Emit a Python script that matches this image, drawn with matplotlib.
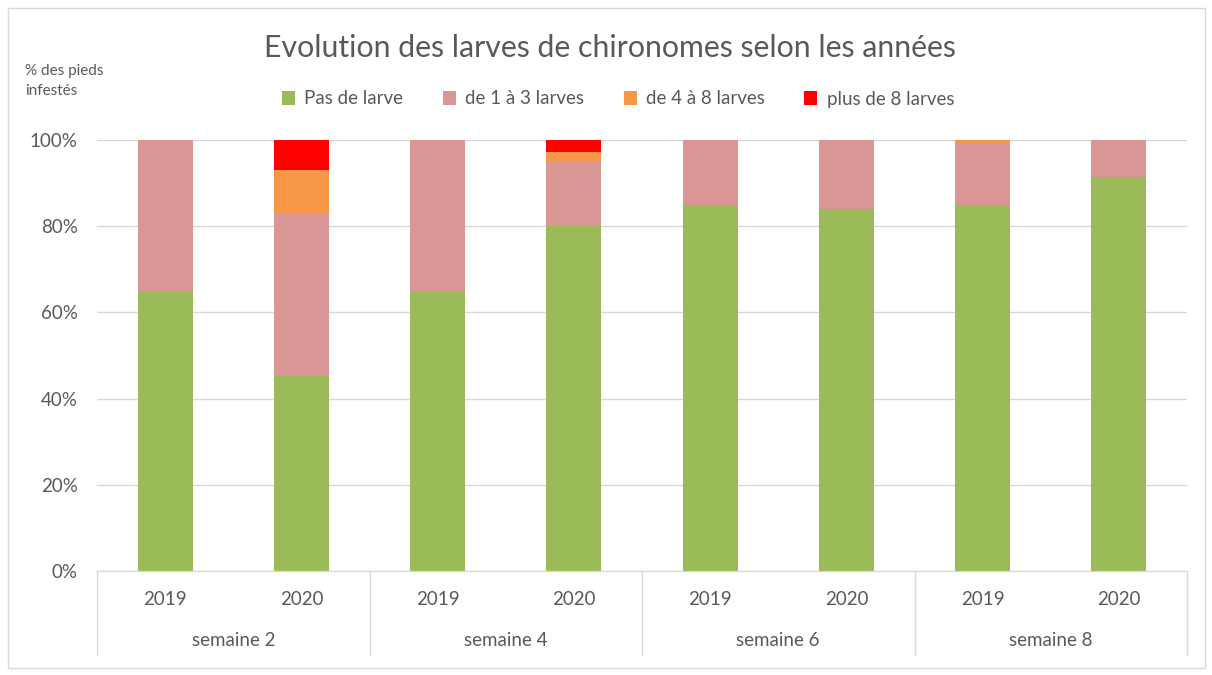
import matplotlib
matplotlib.use("Agg")
import matplotlib.pyplot as plt
import matplotlib.transforms as mtransforms
from matplotlib.patches import Rectangle

plt.rcParams['font.family'] = ['Lato', 'DejaVu Sans']

years = ["2019", "2020", "2019", "2020", "2019", "2020", "2019", "2020"]
groups = ["semaine 2", "semaine 4", "semaine 6", "semaine 8"]
series_names = ["Pas de larve", "de 1 à 3 larves", "de 4 à 8 larves", "plus de 8 larves"]
pas_de_larve = [65, 45.5, 65, 80, 85, 84, 85, 91.3]
de_1_a_3 = [35, 37.5, 35, 15, 15, 16, 14.2, 8.7]
de_4_a_8 = [0, 10, 0, 2.1, 0, 0, 0.8, 0]
plus_de_8 = [0, 7, 0, 2.9, 0, 0, 0, 0]
colors = ["#9BBB59", "#D99694", "#F79646", "#FF0000"]

W, H = 1212, 675
fig = plt.figure(figsize=(W / 100, H / 100), dpi=100)
fig.patches.append(Rectangle((8 / W, 1 - 668 / H), (1205 - 8) / W, (668 - 8) / H,
                             transform=fig.transFigure, fill=False,
                             edgecolor="#d9d9d9", linewidth=1))

ax = fig.add_axes([97 / W, 1 - 571 / H, (1187 - 97) / W, (571 - 140) / H])
x = list(range(len(years)))
bottom = [0] * len(years)
for name, vals, c in zip(series_names, [pas_de_larve, de_1_a_3, de_4_a_8, plus_de_8], colors):
    ax.bar(x, vals, width=0.405, bottom=bottom, color=c, label=name, zorder=3)
    bottom = [b + v for b, v in zip(bottom, vals)]

ax.set_xlim(-0.5, len(years) - 0.5)
ax.set_ylim(0, 100)
ax.set_yticks([0, 20, 40, 60, 80, 100])
ax.set_yticklabels([f"{v}%" for v in [0, 20, 40, 60, 80, 100]])
ax.tick_params(axis='y', length=0, pad=14, labelsize=13.5, labelcolor="#595959")
ax.set_xticks([])
ax.yaxis.grid(True, color="#d9d9d9", linewidth=1, zorder=0)
for s in ["top", "right", "left"]:
    ax.spines[s].set_visible(False)
ax.spines["bottom"].set_color("#d9d9d9")
ax.spines["bottom"].set_zorder(4)

trans = mtransforms.blended_transform_factory(ax.transData, ax.transAxes)
for i, y in enumerate(years):
    ax.text(i, -0.067, y, transform=trans, ha="center", va="center",
            fontsize=13.5, color="#595959")
for g, name in enumerate(groups):
    ax.text(2 * g + 0.5, -0.162, name, transform=trans, ha="center", va="center",
            fontsize=13.5, color="#595959")
for xs in [-0.5, 1.5, 3.5, 5.5, 7.5]:
    ax.plot([xs, xs], [0, -0.195], transform=trans, color="#d9d9d9",
            linewidth=1, clip_on=False)

fig.text(610 / W, 1 - 48 / H, "Evolution des larves de chironomes selon les années",
         ha="center", va="center", fontsize=21.8, color="#595959")
fig.text(25 / W, 1 - 81 / H, "% des pieds\ninfestés", ha="left", va="center",
         fontsize=11, color="#595959", linespacing=1.5)

leg = fig.legend(loc="center", bbox_to_anchor=(618 / W, 1 - 99 / H), ncol=4,
                 frameon=False, fontsize=13.5, handlelength=0.7, handleheight=0.7,
                 columnspacing=2.1, handletextpad=0.5, labelcolor="#595959")

fig.savefig("out.png", dpi=100)
